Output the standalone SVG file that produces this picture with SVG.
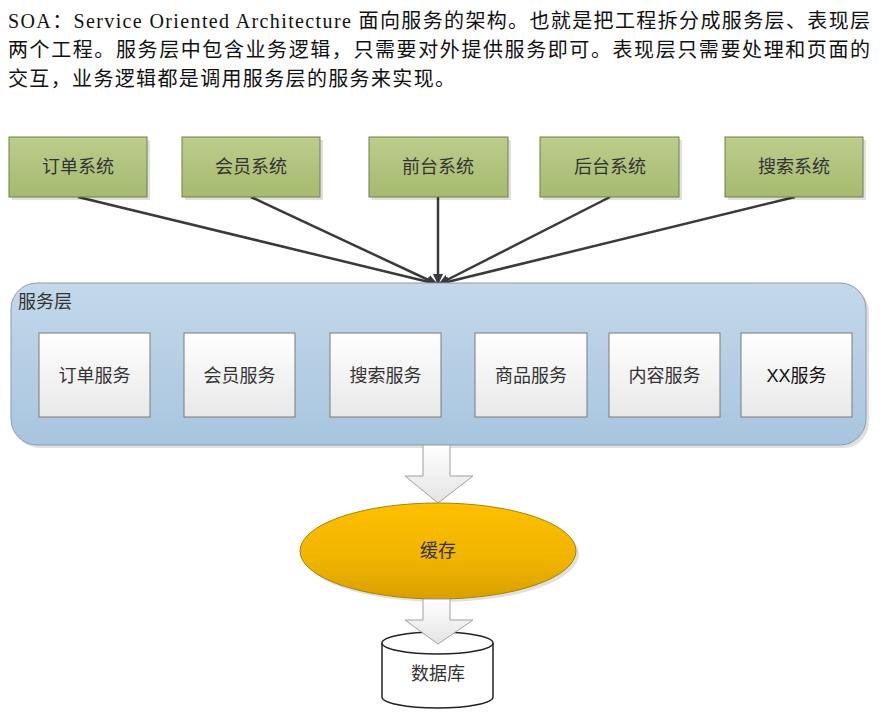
<svg xmlns="http://www.w3.org/2000/svg" width="881" height="722" viewBox="0 0 881 722">
<style>
.para{font-family:"Liberation Serif","Noto Sans CJK SC",serif;font-size:20px;fill:#111}
.lbl{font-family:"Liberation Sans","Noto Sans CJK SC",sans-serif;font-size:18px;fill:#333;text-anchor:middle}
.sys{fill:url(#gGreen);stroke:#6f7f4a;stroke-width:1}
.svc{fill:url(#gWhite);stroke:#7a7a7a;stroke-width:1}
.conn{stroke:#3a3a3a;stroke-width:2.5;fill:none;marker-end:url(#ah)}
.blk{fill:url(#gArrow);stroke:#a0a0a0;stroke-width:1}
.shadow{fill:#000;opacity:0.12}
</style>
<defs>
<linearGradient id="gGreen" x1="0" y1="0" x2="0" y2="1"><stop offset="0" stop-color="#bccd8c"/><stop offset="1" stop-color="#a6ba6f"/></linearGradient>
<linearGradient id="gWhite" x1="0" y1="0" x2="0" y2="1"><stop offset="0" stop-color="#ffffff"/><stop offset="1" stop-color="#e8e8e8"/></linearGradient>
<linearGradient id="gBlue" x1="0" y1="0" x2="0" y2="1"><stop offset="0" stop-color="#c4d8ea"/><stop offset="1" stop-color="#a8c5df"/></linearGradient>
<linearGradient id="gGold" x1="0" y1="0" x2="0" y2="1"><stop offset="0" stop-color="#ffc000"/><stop offset="0.6" stop-color="#f0b400"/><stop offset="1" stop-color="#d8a000"/></linearGradient>
<linearGradient id="gArrow" x1="0" y1="0" x2="0" y2="1"><stop offset="0" stop-color="#ffffff"/><stop offset="1" stop-color="#e4e4e4"/></linearGradient>
<marker id="ah" markerWidth="11" markerHeight="10" refX="10" refY="5" orient="auto" markerUnits="userSpaceOnUse" viewBox="0 0 11 10">
<path d="M0,0 L11,5 L0,10 z" fill="#3a3a3a"/>
</marker>
</defs>
<rect width="881" height="722" fill="#ffffff"/>

<g id="paragraph">
<text class="para" x="8" y="28" textLength="862" lengthAdjust="spacing">SOA：Service Oriented Architecture 面向服务的架构。也就是把工程拆分成服务层、表现层</text>
<text class="para" x="8" y="57" textLength="862" lengthAdjust="spacing">两个工程。服务层中包含业务逻辑，只需要对外提供服务即可。表现层只需要处理和页面的</text>
<text class="para" x="8" y="86" textLength="447" lengthAdjust="spacing">交互，业务逻辑都是调用服务层的服务来实现。</text>
</g>

<g id="connectors">
<line class="conn" x1="78" y1="197" x2="437" y2="284"/>
<line class="conn" x1="251" y1="197" x2="437" y2="284"/>
<line class="conn" x1="438" y1="197" x2="438" y2="284"/>
<line class="conn" x1="610" y1="197" x2="439" y2="284"/>
<line class="conn" x1="795" y1="197" x2="439" y2="284"/>
</g>

<g id="sys-order"><rect class="shadow" x="12" y="140" width="138" height="60"/><rect class="sys" x="9" y="137" width="138" height="60"/><text class="lbl" x="78" y="173">订单系统</text></g>
<g id="sys-member"><rect class="shadow" x="185" y="140" width="138" height="60"/><rect class="sys" x="182" y="137" width="138" height="60"/><text class="lbl" x="251" y="173">会员系统</text></g>
<g id="sys-front"><rect class="shadow" x="372" y="140" width="139" height="60"/><rect class="sys" x="369" y="137" width="139" height="60"/><text class="lbl" x="438" y="173">前台系统</text></g>
<g id="sys-back"><rect class="shadow" x="543" y="140" width="139" height="60"/><rect class="sys" x="540" y="137" width="139" height="60"/><text class="lbl" x="610" y="173">后台系统</text></g>
<g id="sys-search"><rect class="shadow" x="728" y="140" width="138" height="60"/><rect class="sys" x="725" y="137" width="138" height="60"/><text class="lbl" x="794" y="173">搜索系统</text></g>

<g id="service-layer">
<rect class="shadow" x="14" y="286" width="855" height="162" rx="26"/>
<rect x="11" y="283" width="855" height="162" rx="26" fill="url(#gBlue)" stroke="#8c9cab" stroke-width="1"/>
<text x="18" y="308" style="font-family:'Liberation Sans','Noto Sans CJK SC',sans-serif;font-size:18px;fill:#333">服务层</text>
</g>

<g id="svc-order"><rect class="svc" x="39" y="333" width="111" height="84"/><text class="lbl" x="94.5" y="382">订单服务</text></g>
<g id="svc-member"><rect class="svc" x="184" y="333" width="111" height="84"/><text class="lbl" x="239.5" y="382">会员服务</text></g>
<g id="svc-search"><rect class="svc" x="330" y="333" width="111" height="84"/><text class="lbl" x="385.5" y="382">搜索服务</text></g>
<g id="svc-goods"><rect class="svc" x="475" y="333" width="112" height="84"/><text class="lbl" x="531" y="382">商品服务</text></g>
<g id="svc-content"><rect class="svc" x="609" y="333" width="111" height="84"/><text class="lbl" x="664.5" y="382">内容服务</text></g>
<g id="svc-xx"><rect class="svc" x="741" y="333" width="111" height="84"/><text class="lbl" x="796.5" y="382" style="fill:#111">XX服务</text></g>

<g id="arrow-to-cache">
<path class="blk" d="M423,445 L450,445 L450,476 L473,476 L438,503 L405,476 L423,476 Z"/>
</g>

<g id="cache">
<ellipse class="shadow" cx="441" cy="554" rx="138" ry="48"/>
<ellipse cx="438" cy="551" rx="138" ry="48" fill="url(#gGold)" stroke="#a88400" stroke-width="1"/>
<text class="lbl" x="438" y="557">缓存</text>
</g>

<g id="database">
<path d="M382,643 L382,697 A55.5,11 0 0 0 493,697 L493,643" fill="#ffffff" stroke="#222" stroke-width="1.5"/>
<ellipse cx="437.5" cy="643" rx="55.5" ry="11" fill="#ffffff" stroke="#222" stroke-width="1.5"/>
<text class="lbl" x="438" y="680">数据库</text>
</g>

<g id="arrow-to-db">
<path class="blk" d="M423,599 L450,599 L450,620 L473,620 L438,644 L405,620 L423,620 Z"/>
</g>
</svg>
